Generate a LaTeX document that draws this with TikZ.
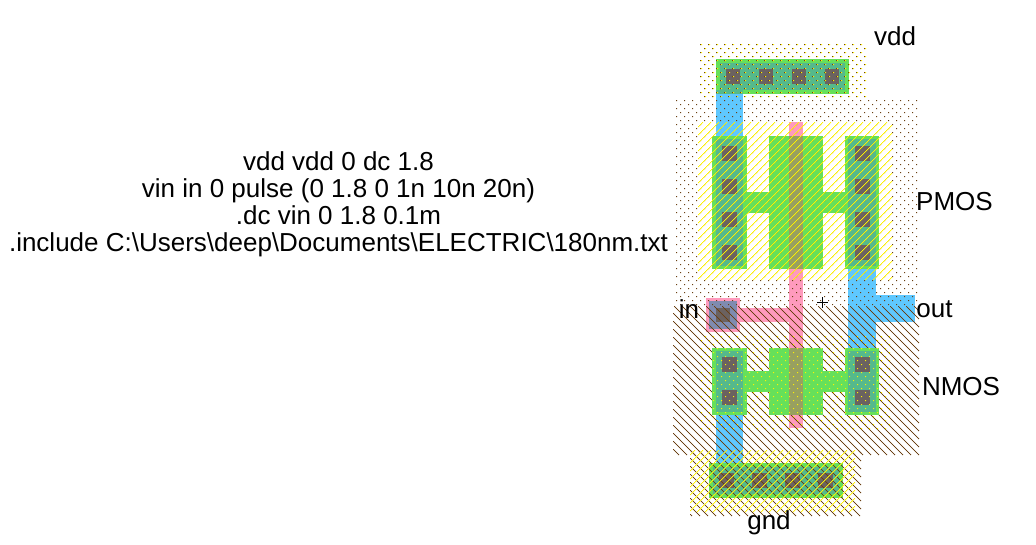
\documentclass[tikz,border=0pt]{standalone}
\usepackage{fontspec}
\setmainfont{Liberation Sans}
\usepackage{xcolor}

\definecolor{diffgreen}{HTML}{66E05A}
\definecolor{metalblue}{HTML}{5FC8FF}
\definecolor{metalteal}{HTML}{55B98C}
\definecolor{polypink}{HTML}{FF9ABD}
\definecolor{polyolive}{HTML}{98A060}
\definecolor{viaslate}{HTML}{7F8BB0}
\definecolor{cutgray}{HTML}{6B6260}
\definecolor{wellbrown}{HTML}{6A3F12}

\newcount\pixx
\newcount\pixy
\newcount\pixa
\newcount\pixb
\newcount\pixc
% one pixel at the counters
\newcommand{\putpixel}{
	\pgfpathrectangle{\pgfqpoint{\the\pixx pt}{-\the\pixy pt}}{\pgfqpoint{1pt}{-1pt}}
}
% diagonal lines, one pixel at a time: x0,y0,x1,y1,sign,colour
\newcommand{\hatchpixels}[6]{
	\begin{pgfscope}
	\pgfsetfillcolor{#6}
	\pixx=#1 \pixy=#2
	\loop\ifnum\pixy<#4
		\pixa=\numexpr\pixx#5\pixy+8000\relax
		\pixb=\pixa \divide\pixb 8 \multiply\pixb 8
		\ifnum\pixa=\pixb
			\putpixel
		\fi
		\advance\pixx 1
		\ifnum\pixx<#3\else
			\pgfusepath{fill}
			\pixx=#1 \advance\pixy 1
		\fi
	\repeat
	\end{pgfscope}
}
% staggered dots: x0,y0,x1,y1,shift,colour
\newcommand{\dotpixels}[6]{
	\begin{pgfscope}
	\pgfsetfillcolor{#6}
	\pixx=#1 \pixy=#2
	\loop\ifnum\pixy<#4
		\pixa=\numexpr\pixx-#5+\pixy+8000\relax
		\pixb=\pixa \divide\pixb 8 \multiply\pixb 8
		\pixc=\numexpr\pixx-#5-\pixy+8000\relax
		\pixa=\pixc \divide\pixa 8 \multiply\pixa 8
		\ifnum\numexpr\pixx-#5+\pixy+8000\relax=\pixb
			\ifnum\pixc=\pixa
				\putpixel
			\fi
		\fi
		\advance\pixx 1
		\ifnum\pixx<#3\else
			\pgfusepath{fill}
			\pixx=#1 \advance\pixy 1
		\fi
	\repeat
	\end{pgfscope}
}

\tikzset{
	diff/.style={fill=diffgreen},
	metal/.style={fill=metalblue},
	contact/.style={fill=metalteal},
	poly/.style={fill=polypink},
	cut/.style={fill=cutgray},
	label/.style={font=\fontsize{26}{27}\selectfont,inner sep=0pt}
}

\begin{document}
\begin{tikzpicture}[x=1pt,y=-1pt]
	\useasboundingbox (0,0) rectangle (1036,544);

	% metal and poly wires
	\fill[metal] (716,94) rectangle (743,136);
	\fill[metal] (848,269) rectangle (876,348);
	\fill[metal] (876,295) rectangle (915,322);
	\fill[metal] (716,415) rectangle (743,463);
	\fill[poly] (789,122) rectangle (803,428);
	\fill[poly] (740,308) rectangle (789,322);

	% input contact
	\fill[poly] (706,298) rectangle (740,332);
	\fill[viaslate] (709,301) rectangle (737,329);
	\fill[cut] (716,308) rectangle (730,322);

	% lower well sits under the nmos diffusion
	\hatchpixels{673}{306}{919}{455}{-}{wellbrown}

	% pmos and nmos diffusion
	\foreach \top/\bot in {136/269,348/415} {
		\fill[diff] (712,\top) rectangle (747,\bot);
		\fill[diff] (769,\top) rectangle (823,\bot);
		\fill[diff] (845,\top) rectangle (879,\bot);
		\fill[contact] (716,\top+3) rectangle (743,\bot-3);
		\fill[contact] (848,\top+3) rectangle (876,\bot-3);
	}
	\fill[diff] (747,192) rectangle (769,213);
	\fill[diff] (823,192) rectangle (845,213);
	\fill[diff] (747,371) rectangle (769,392);
	\fill[diff] (823,371) rectangle (845,392);
	\fill[polyolive] (789,136) rectangle (803,269);
	\fill[polyolive] (789,348) rectangle (803,415);

	% contacts in the diffusion
	\foreach \x in {722,855} {
		\foreach \y in {146,179,212,245,357,390}
			\fill[cut] (\x,\y) rectangle (\x+15,\y+15);
	}

	% vdd and gnd rails
	\fill[diff] (716,59) rectangle (849,94);
	\fill[contact] (720,63) rectangle (845,90);
	\fill[contact] (716,90) rectangle (743,94);
	\foreach \x in {726,759,792,825}
		\fill[cut] (\x,69) rectangle (\x+14,84);
	\fill[diff] (709,463) rectangle (843,498);
	\fill[contact] (713,467) rectangle (839,494);
	\foreach \x in {719,752,785,818}
		\fill[cut] (\x,473) rectangle (\x+15,488);

	% wells and select on top
	\dotpixels{698}{41}{867}{97}{0}{wellbrown}
	\dotpixels{698}{41}{867}{97}{1}{yellow}
	\dotpixels{673}{97}{919}{306}{0}{wellbrown}
	\hatchpixels{698}{122}{892}{280}{+}{yellow}
	\dotpixels{698}{335}{892}{430}{1}{yellow}
	\hatchpixels{690}{450}{861}{516}{-}{wellbrown}
	\hatchpixels{690}{450}{855}{512}{+}{yellow}

	% cursor cross
	\draw[black,line width=.6pt] (817,302) -- (828,302);
	\draw[black,line width=.6pt] (822.5,297) -- (822.5,308);

	\node[label,align=center] (netlist) at (338.5,204) {vdd vdd 0 dc 1.8\\vin in 0 pulse (0 1.8 0 1n 10n 20n)\\.dc vin 0 1.8 0.1m\\.include C:\textbackslash Users\textbackslash deep\textbackslash Documents\textbackslash ELECTRIC\textbackslash 180nm.txt};
	\node[label] (vddname) at (895,36) {vdd};
	\node[label] (pmosname) at (954.5,202) {PMOS};
	\node[label] (inname) at (689,309) {in};
	\node[label] (outname) at (934.5,309) {out};
	\node[label] (nmosname) at (961,387) {NMOS};
	\node[label] (gndname) at (769,523) {gnd};
\end{tikzpicture}
\end{document}
